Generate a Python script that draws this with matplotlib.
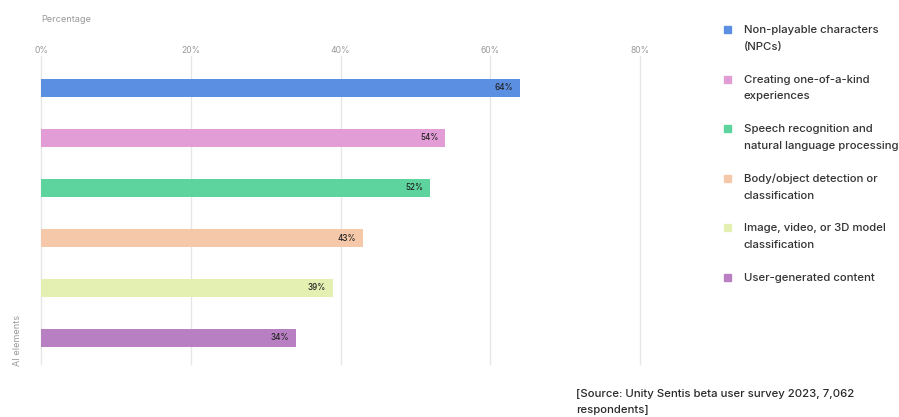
import matplotlib
matplotlib.use("Agg")
import matplotlib.pyplot as plt
from matplotlib.patches import Rectangle

categories = [
    "Non-playable characters\n(NPCs)",
    "Creating one-of-a-kind\nexperiences",
    "Speech recognition and\nnatural language processing",
    "Body/object detection or\nclassification",
    "Image, video, or 3D model\nclassification",
    "User-generated content",
]
values = [64, 54, 52, 43, 39, 34]
colors = ["#5B8FE2", "#E29DD7", "#5DD39D", "#F4C8A8", "#E4F0B2", "#B97FC3"]
xticks = [0, 20, 40, 60, 80]

plt.rcParams['font.family'] = ['Inter', 'DejaVu Sans']

fig = plt.figure(figsize=(8.99, 4.17), dpi=100)
ax = fig.add_axes([41/899, 1-364/417, (640-41)/899, (364-56)/417])

ypos = list(range(len(values)))
ax.barh(ypos, values, height=0.36, color=colors, edgecolor="none", zorder=3)
for y, v in zip(ypos, values):
    ax.text(v - 0.9, y, f"{v}%", ha="right", va="center", fontsize=5.8,
            color="#222222", fontweight="medium", zorder=4)

ax.set_xlim(0, 80)
ax.set_ylim(5.52, -0.64)
ax.set_xticks(xticks)
ax.set_xticklabels([f"{t}%" for t in xticks])
ax.xaxis.tick_top()
ax.tick_params(axis="x", length=0, pad=1, labelsize=6.2, labelcolor="#9a9a9a")
ax.set_yticks([])
ax.grid(axis="x", color="#e6e6e6", linewidth=1, zorder=0)
for gl in ax.get_xgridlines():
    gl.set_clip_on(False)
for s in ax.spines.values():
    s.set_visible(False)

fig.text(41/899, 1-20/417, "Percentage", fontsize=6.6, color="#9a9a9a",
         ha="left", va="center")
fig.text(17/899, 1-340/417, "AI elements", fontsize=6.6, color="#9a9a9a",
         rotation=90, ha="center", va="center")

# legend
for i, (lab, c) in enumerate(zip(categories, colors)):
    ytop = 29 + 49.6 * i
    fig.patches.append(Rectangle((724/899, 1-(ytop+4)/417), 7/899, 7/417,
                                 transform=fig.transFigure, color=c))
    fig.text(743.5/899, 1-(ytop-4)/417, lab, fontsize=8.2, color="#333333",
             fontweight="medium", ha="left", va="top", linespacing=1.82)

fig.text(576/899, 1-389/417, "[Source: Unity Sentis beta user survey 2023, 7,062\nrespondents]",
         fontsize=8.2, color="#2a2a2a", fontweight="medium", ha="left", va="top",
         linespacing=1.8)

fig.savefig("out.png", dpi=100)
